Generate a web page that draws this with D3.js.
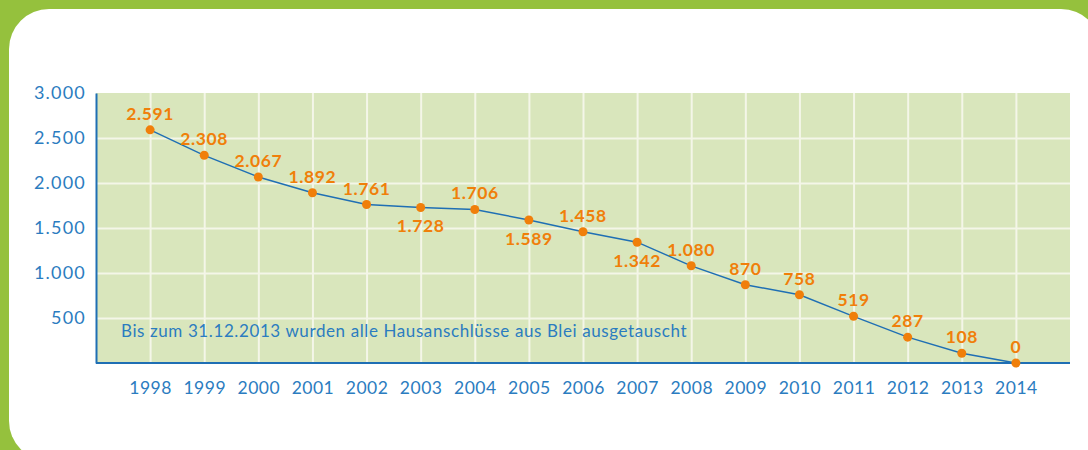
<!DOCTYPE html>
<html>
<head>
<meta charset="utf-8">
<script src="https://cdn.jsdelivr.net/npm/d3@7"></script>
<style>
    html, body { margin: 0; padding: 0; background: #95c13d; }
    svg { display: block; }
</style>
</head>
<body>
<div id="chart"></div>
<script>
// Hausanschlüsse aus Blei, Bestand je Jahr
const years = [1998, 1999, 2000, 2001, 2002, 2003, 2004, 2005, 2006, 2007, 2008, 2009, 2010, 2011, 2012, 2013, 2014];
const connections = [2591, 2308, 2067, 1892, 1761, 1728, 1706, 1589, 1458, 1342, 1080, 870, 758, 519, 287, 108, 0];
const labelSide = ['above', 'above', 'above', 'above', 'above', 'below', 'above', 'below', 'above', 'below',
    'above', 'above', 'above', 'above', 'above', 'above', 'above'];
const yTicks = [500, 1000, 1500, 2000, 2500, 3000];
const note = 'Bis zum 31.12.2013 wurden alle Hausanschlüsse aus Blei ausgetauscht';

const width = 1088,
    height = 450;
const margin = {top: 93, right: 18, bottom: 87, left: 96};

const blue = '#2b7cc0',
    lineBlue = '#1f6fb4',
    orange = '#f07f0a',
    plotBg = '#d9e6bc',
    gridColor = '#f4f6e8',
    font = 'Lato, sans-serif';

const fmt = d3.formatLocale({decimal: ',', thousands: '.', grouping: [3], currency: ['', '€']}).format(',d');

const svg = d3.select('#chart').append('svg')
    .attr('width', width)
    .attr('height', height);

// white card on the green background
svg.append('rect')
    .attr('x', 9)
    .attr('y', 9)
    .attr('width', 1092)
    .attr('height', 452)
    .attr('rx', 40)
    .attr('fill', '#ffffff');

const xScale = d3.scaleLinear()
    .domain([1997, 2015])
    .range([margin.left, width - margin.right]);

const yScale = d3.scaleLinear()
    .domain([0, 3000])
    .range([height - margin.bottom, margin.top]);

svg.append('rect')
    .attr('x', margin.left)
    .attr('y', margin.top)
    .attr('width', width - margin.left - margin.right)
    .attr('height', height - margin.top - margin.bottom)
    .attr('fill', plotBg);

// grid
const xGrid = d3.axisBottom(xScale)
    .tickValues(years)
    .tickSize(-(height - margin.top - margin.bottom))
    .tickFormat('');

svg.append('g')
    .attr('class', 'x grid')
    .attr('transform', `translate(0,${height - margin.bottom})`)
    .call(xGrid)
    .call(g => g.select('.domain').remove())
    .call(g => g.selectAll('line').attr('stroke', gridColor).attr('stroke-width', 2));

const yGrid = d3.axisLeft(yScale)
    .tickValues(yTicks.filter(t => t < 3000))
    .tickSize(-(width - margin.left - margin.right))
    .tickFormat('');

svg.append('g')
    .attr('class', 'y grid')
    .attr('transform', `translate(${margin.left},0)`)
    .call(yGrid)
    .call(g => g.select('.domain').remove())
    .call(g => g.selectAll('line').attr('stroke', gridColor).attr('stroke-width', 2));

// axes
const xAxis = d3.axisBottom(xScale)
    .tickValues(years)
    .tickSize(0)
    .tickPadding(19)
    .tickFormat(d => String(d));

svg.append('g')
    .attr('class', 'x axis')
    .attr('transform', `translate(0,${height - margin.bottom})`)
    .call(xAxis)
    .call(g => g.select('.domain').attr('stroke', lineBlue).attr('stroke-width', 2)
        .attr('d', `M${margin.left},0H${width - margin.right}`))
    .call(g => g.selectAll('text')
        .attr('fill', blue)
        .style('font-family', font)
        .style('font-size', '17.5px')
        .style('letter-spacing', '0.5px'));

const yAxis = d3.axisLeft(yScale)
    .tickValues(yTicks)
    .tickSize(0)
    .tickPadding(10)
    .tickFormat(d => fmt(d));

svg.append('g')
    .attr('class', 'y axis')
    .attr('transform', `translate(${margin.left},0)`)
    .call(yAxis)
    .call(g => g.select('.domain').attr('stroke', lineBlue).attr('stroke-width', 2))
    .call(g => g.selectAll('text')
        .attr('fill', blue)
        .style('font-family', font)
        .style('font-size', '18px')
        .style('letter-spacing', '1.2px'));

// note
svg.append('text')
    .attr('x', 121)
    .attr('y', 337)
    .attr('fill', blue)
    .style('font-family', font)
    .style('font-size', '17px')
    .style('letter-spacing', '0.6px')
    .text(note);

// line + points
const data = years.map((y, i) => ({year: y, value: connections[i], side: labelSide[i]}));

const line = d3.line()
    .x(d => xScale(d.year))
    .y(d => yScale(d.value));

svg.append('path')
    .datum(data)
    .attr('d', line)
    .attr('fill', 'none')
    .attr('stroke', lineBlue)
    .attr('stroke-width', 1.4);

svg.append('g')
    .selectAll('circle')
    .data(data)
    .enter()
    .append('circle')
    .attr('cx', d => xScale(d.year))
    .attr('cy', d => yScale(d.value))
    .attr('r', 4.5)
    .attr('fill', orange);

svg.append('g')
    .selectAll('text')
    .data(data)
    .enter()
    .append('text')
    .attr('x', d => xScale(d.year))
    .attr('y', d => yScale(d.value) + (d.side === 'below' ? 25 : -10))
    .attr('text-anchor', 'middle')
    .attr('fill', orange)
    .style('font-family', font)
    .style('font-weight', 'bold')
    .style('font-size', '17.5px')
    .style('letter-spacing', '0.6px')
    .text(d => fmt(d.value));
</script>
</body>
</html>
